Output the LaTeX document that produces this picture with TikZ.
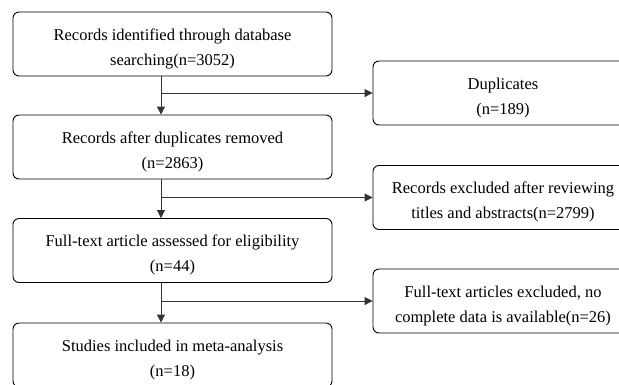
\documentclass[tikz,border=0pt]{standalone}
\usepackage{fontspec}
\setmainfont{Liberation Serif}
\usetikzlibrary{positioning,arrows.meta}

\begin{document}
\begin{tikzpicture}[x=1pt, y=-1pt,
		box/.style={draw, rounded corners=6pt, line width=0.9pt, align=center,
			inner sep=0pt, minimum height=64pt, text height=46pt,
			font=\fontsize{16.5}{25}\selectfont},
		leftbox/.style={box, minimum width=319pt},
		rightbox/.style={box, minimum width=260pt},
		flow/.style={line width=0.9pt, draw=black!80, -{Triangle[length=8pt,width=8pt]}}]
			\clip (0,0) rectangle (619,384);
			\begin{scope}
				\node[leftbox] (ident) at (172.5,44) {Records identified through database\\searching(n=3052)};
				\node[leftbox] (removed) at (172.5,147) {Records after duplicates removed\\(n=2863)};
				\node[leftbox] (full) at (172.5,250.5) {Full-text article assessed for eligibility\\(n=44)};
				\node[leftbox] (incl) at (172.5,355) {Studies included in meta-analysis\\(n=18)};
				\node[rightbox] (dup) at (503,93) {Duplicates\\(n=189)};
				\node[rightbox] (excl) at (503,197.5) {Records excluded after reviewing\\titles and abstracts(n=2799)};
				\node[rightbox] (nodata) at (503,301) {Full-text articles excluded, no\\complete data is available(n=26)};
			\end{scope}
			% branch points
			\coordinate (j1) at (161,93);
			\coordinate (j2) at (161,197.5);
			\coordinate (j3) at (161,301);
			\begin{scope}
				\draw[flow] (j1 |- ident.south) -- (j1 |- removed.north);
				\draw[flow] (j1) -- (dup.west);
				\draw[flow] (j2 |- removed.south) -- (j2 |- full.north);
				\draw[flow] (j2) -- (excl.west);
				\draw[flow] (j3 |- full.south) -- (j3 |- incl.north);
				\draw[flow] (j3) -- (nodata.west);
			\end{scope}
		\end{tikzpicture}
\end{document}
